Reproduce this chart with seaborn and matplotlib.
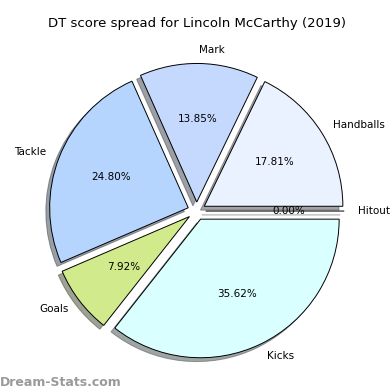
import matplotlib.pyplot as plt
import seaborn as sns

labels = ['Hitout', 'Handballs', 'Mark', 'Tackle', 'Goals', 'Kicks']
shares = [0.00, 17.81, 13.85, 24.80, 7.92, 35.62]
colors = ['#e0e0ff', '#eaf1ff', '#c5d9ff', '#b5d5ff', '#d1ea8c', '#d9ffff']

sns.set_style('white', {'text.color': 'black'})
plt.rcParams['font.family'] = ['DejaVu Sans']

fig, ax = plt.subplots(figsize=(3.9, 3.9), dpi=100)
ax.pie(shares, labels=labels, colors=colors, autopct='%1.2f%%',
       explode=[0.065] * len(shares), shadow=True, startangle=0,
       counterclock=True, textprops={'fontsize': 7.5, 'color': 'black'},
       wedgeprops={'edgecolor': 'black', 'linewidth': 0.7})
ax.set_title('DT score spread for Lincoln McCarthy (2019)', fontsize=9.5, color='black', pad=16)
ax.axis('equal')
fig.text(0.0, 0.01, 'Dream-Stats.com', color='#9a9a9a', fontsize=9, fontweight='bold')
plt.subplots_adjust(left=0.065, right=0.945, top=0.875, bottom=0.045)
plt.savefig('out.png')
